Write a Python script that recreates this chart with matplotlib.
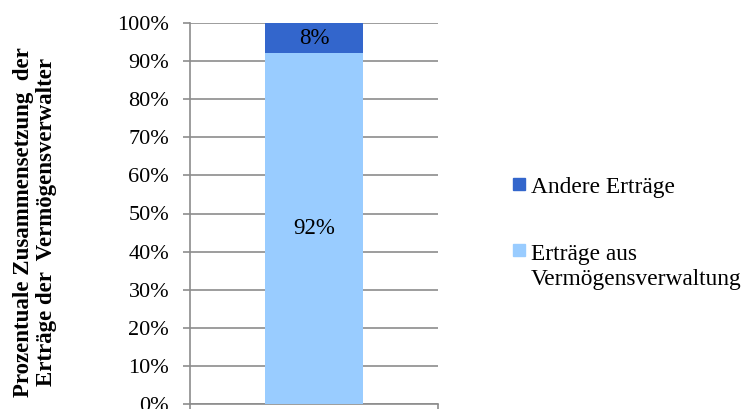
import matplotlib.pyplot as plt
from matplotlib.patches import Rectangle

plt.rcParams['font.family'] = ['Liberation Serif', 'DejaVu Serif']

labels = ['Erträge aus\nVermögensverwaltung', 'Andere Erträge']
values = [92, 8]
colors = ['#99ccff', '#3366cc']
yticks = [0, 10, 20, 30, 40, 50, 60, 70, 80, 90, 100]

W, H = 745, 409
fig = plt.figure(figsize=(W / 100, H / 100), dpi=100)
ax = fig.add_axes([190 / W, 1 - 404 / H, 248 / W, 381 / H])

bottom = 0
for v, c in zip(values, colors):
    ax.bar(0, v, bottom=bottom, width=0.395, color=c, zorder=3)
    ax.text(0, bottom + v / 2, '%d%%' % v, ha='center', va='center', fontsize=16.5, zorder=4)
    bottom += v

ax.set_xlim(-0.5, 0.5)
ax.set_ylim(0, 100)
ax.set_yticks(yticks)
ax.set_yticklabels(['%d%%' % t for t in yticks], fontsize=16)
ax.yaxis.grid(True, color='#8c8c8c', linewidth=1.2, zorder=0)
ax.set_xticks([-0.5, 0.5])
ax.set_xticklabels(['', ''])
ax.tick_params(axis='x', length=5, color='#8c8c8c', width=1.2)
ax.tick_params(axis='y', length=5, color='#8c8c8c', width=1.2, pad=10)
for s in ['top', 'right']:
    ax.spines[s].set_visible(False)
for s in ['left', 'bottom']:
    ax.spines[s].set_color('#8c8c8c')
    ax.spines[s].set_linewidth(1.2)

fig.text(35 / W, 1 - 222 / H, 'Prozentuale Zusammensetzung  der\nErträge der  Vermögensverwalter',
         rotation=90, ha='center', va='center', fontsize=16.5, fontweight='bold',
         multialignment='center', linespacing=1.12)

# legend, placed by hand: (label, colour, marker centre y, first baseline y) in pixels
leg_items = [(labels[1], colors[1], 184, 193), (labels[0], colors[0], 250, 260)]
for lab, col, yc, yb in leg_items:
    fig.patches.append(Rectangle((513 / W, 1 - (yc + 6) / H), 12 / W, 12 / H,
                                 transform=fig.transFigure, color=col))
    for k, line in enumerate(lab.split('\n')):
        fig.text(531 / W, 1 - (yb + 25 * k) / H, line, ha='left', va='baseline',
                 fontsize=16.8)

fig.savefig('out.png', dpi=100)
